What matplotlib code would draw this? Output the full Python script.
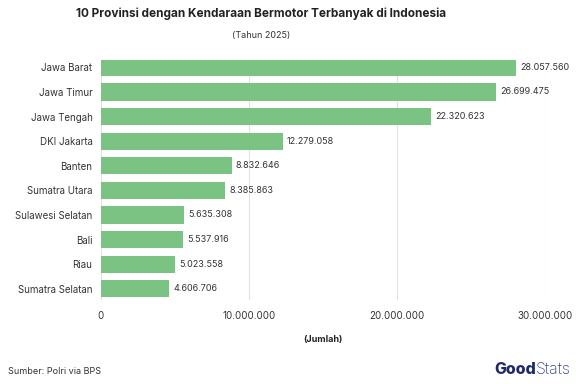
import numpy as np
import matplotlib
matplotlib.use("Agg")
import matplotlib.pyplot as plt

provinces = ["Jawa Barat", "Jawa Timur", "Jawa Tengah", "DKI Jakarta", "Banten",
             "Sumatra Utara", "Sulawesi Selatan", "Bali", "Riau", "Sumatra Selatan"]
vehicles = [28057560, 26699475, 22320623, 12279058, 8832646,
            8385863, 5635308, 5537916, 5023558, 4606706]
xticks = [0, 10000000, 20000000, 30000000]

plt.rcParams["font.family"] = ["Inter", "DejaVu Sans"]

def fmt(v):
    return f"{v:,}".replace(",", ".")

fig = plt.figure(figsize=(5.76, 3.84), dpi=100)
ax = fig.add_axes([0.175, 0.219, 0.771, 0.625])

y = np.arange(len(provinces))
ax.barh(y, vehicles, height=0.7, color="#7bc383", zorder=3)
for yi, v in zip(y, vehicles):
    ax.text(v + 300000, yi, fmt(v), va="center", ha="left", fontsize=6.5, color="#333333")

ax.set_xlim(0, 30000000)
ax.set_ylim(9.45, -0.3)
ax.set_yticks(y, provinces, fontsize=7, color="#333333")
ax.set_xticks(xticks, [fmt(t) for t in xticks], fontsize=7, color="#333333")
ax.tick_params(length=0, pad=8)
ax.tick_params(axis="y", pad=6)
ax.grid(axis="x", color="#e2e2e2", lw=0.8, zorder=0)
for s in ax.spines.values():
    s.set_visible(False)
ax.set_xlabel("(Jumlah)", fontsize=6.5, fontweight="bold", color="#222222", labelpad=10)

fig.text(0.453, 0.965, "10 Provinsi dengan Kendaraan Bermotor Terbanyak di Indonesia",
         ha="center", va="center", fontsize=8.5, fontweight="bold", color="#222222")
fig.text(0.453, 0.908, "(Tahun 2025)", ha="center", va="center", fontsize=6.5, color="#333333")
fig.text(0.014, 0.02, "Sumber: Polri via BPS", ha="left", va="bottom", fontsize=6.5, color="#333333")

# logo: "Good" heavy + "Stats" light, placed side by side
good = fig.text(0.858, 0.018, "Good", ha="left", va="bottom", fontsize=11.5,
                fontweight="heavy", color="#1f2a6b")
fig.canvas.draw()
bb = good.get_window_extent()
fig.text(bb.x1 / fig.bbox.width, 0.018, "Stats", ha="left", va="bottom", fontsize=11.5,
         fontweight="light", color="#3a4a8c")

fig.savefig("out.png", dpi=100)
